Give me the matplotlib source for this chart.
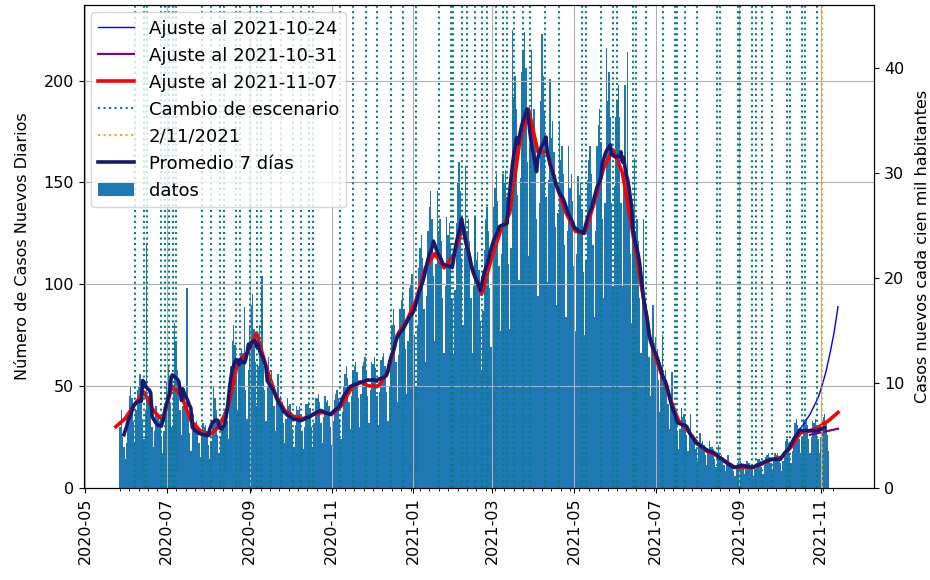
import numpy as np
import pandas as pd
import matplotlib
matplotlib.use('Agg')
from matplotlib import pyplot as plt
import matplotlib.dates as mdates

# datos diarios desde 2020-05-27 (una fila por semana, mie..mar)
inicio = '2020-05-27'
casos = [
    30, 38, 25, 20, 14, 22, 33,
    45, 50, 44, 33, 22, 38, 48,
    50, 56, 48, 34, 24, 38, 119,
    45, 44, 40, 30, 20, 28, 40,
    35, 36, 33, 25, 17, 28, 38,
    52, 60, 55, 42, 30, 48, 81,
    72, 58, 50, 38, 26, 40, 48,
    40, 98, 36, 27, 18, 28, 36,
    31, 33, 29, 22, 15, 25, 32,
    30, 31, 28, 21, 14, 23, 33,
    50, 44, 38, 26, 17, 25, 32,
    30, 36, 36, 33, 24, 45, 60,
    72, 80, 70, 55, 38, 60, 66,
    68, 66, 89, 48, 34, 58, 80,
    90, 95, 78, 62, 40, 60, 80,
    70, 104, 60, 48, 33, 50, 64,
    55, 58, 52, 40, 28, 42, 56,
    44, 45, 42, 32, 22, 34, 44,
    40, 41, 37, 29, 20, 31, 40,
    38, 40, 36, 28, 19, 30, 41,
    41, 42, 39, 30, 20, 32, 44,
    44, 46, 42, 32, 22, 35, 45,
    42, 43, 40, 30, 21, 33, 43,
    46, 48, 44, 34, 24, 37, 50,
    56, 60, 54, 42, 29, 45, 58,
    60, 62, 57, 44, 30, 46, 60,
    62, 64, 58, 45, 32, 48, 62,
    61, 64, 59, 45, 31, 47, 63,
    64, 66, 60, 47, 33, 50, 66,
    80, 88, 80, 62, 42, 65, 88,
    92, 96, 88, 68, 46, 72, 98,
    100, 105, 97, 75, 50, 80, 108,
    118, 124, 113, 88, 62, 94, 126,
    138, 146, 132, 104, 72, 110, 146,
    126, 132, 121, 93, 66, 99, 133,
    124, 130, 119, 92, 65, 97, 130,
    150, 160, 146, 113, 80, 118, 158,
    126, 132, 121, 93, 66, 99, 133,
    112, 116, 107, 82, 58, 87, 117,
    132, 138, 126, 98, 69, 104, 138,
    147, 154, 141, 109, 77, 115, 154,
    150, 156, 143, 110, 78, 118, 225,
    192, 202, 186, 144, 102, 152, 204,
    215, 224, 206, 160, 114, 168, 215,
    175, 186, 170, 132, 94, 140, 190,
    223, 202, 185, 143, 101, 151, 201,
    172, 180, 165, 128, 90, 135, 180,
    161, 168, 154, 119, 84, 126, 168,
    147, 154, 141, 109, 77, 115, 153,
    144, 150, 137, 106, 75, 112, 151,
    161, 168, 154, 119, 84, 126, 168,
    178, 186, 170, 132, 93, 140, 216,
    190, 204, 182, 140, 99, 148, 182,
    190, 198, 182, 140, 99, 148, 198,
    155, 214, 148, 115, 81, 121, 162,
    126, 132, 121, 93, 66, 99, 132,
    86, 90, 82, 64, 45, 68, 90,
    71, 74, 68, 53, 37, 56, 75,
    55, 58, 53, 41, 29, 43, 57,
    37, 38, 35, 27, 19, 29, 39,
    35, 36, 33, 26, 18, 27, 36,
    25, 26, 24, 19, 13, 20, 27,
    22, 23, 21, 16, 11, 17, 23,
    20, 20, 19, 14, 10, 15, 21,
    15, 16, 14, 11, 8, 12, 16,
    12, 12, 11, 8, 6, 9, 12,
    13, 13, 12, 9, 7, 10, 13,
    12, 12, 11, 8, 6, 9, 12,
    14, 14, 13, 10, 7, 11, 15,
    16, 17, 15, 12, 8, 13, 17,
    16, 17, 15, 12, 8, 13, 17,
    23, 24, 22, 17, 12, 18, 24,
    32, 34, 31, 24, 17, 25, 34,
    32, 34, 31, 24, 17, 25, 33,
    32, 34, 31, 24, 17, 25, 33,
    35, 36, 33, 26, 18,
]

# ajuste al 2021-11-07 (semanal desde 2020-05-24)
ajuste_1107_inicio = '2020-05-24'
ajuste_1107 = [30, 34, 41, 47, 38, 33, 50, 45, 33, 28, 26, 30, 40, 62, 66, 76, 60, 46, 38, 35,
               34, 36, 37, 36, 40, 48, 52, 50, 50, 57, 75, 82, 92, 108, 115, 108, 114, 128, 107, 95,
               112, 126, 135, 168, 186, 165, 165, 148, 135, 126, 125, 140, 157, 166, 155, 128, 100, 72, 58, 45,
               33, 28, 22, 18, 16, 13, 10, 10, 10, 12, 14, 15, 20, 27, 28, 30, 33, 37]

# ajuste al 2021-10-31 (semanal desde 2021-10-24)
ajuste_1031_inicio = '2021-10-24'
ajuste_1031 = [26, 27, 28, 29]

# ajuste al 2021-10-24 (cada 3 dias desde 2021-10-15)
ajuste_1024_inicio = '2021-10-15'
ajuste_1024 = [28, 30, 33, 36, 40, 44, 50, 57, 66, 76, 89]

cambios_escenario = [
    '2020-06-07', '2020-06-14', '2020-06-16', '2020-06-27', '2020-06-30', '2020-07-03',
    '2020-07-06', '2020-07-08', '2020-07-27', '2020-08-03', '2020-08-10', '2020-08-13',
    '2020-08-22', '2020-08-25', '2020-09-01', '2020-09-06', '2020-09-09', '2020-09-17',
    '2020-09-24', '2020-10-03', '2020-10-09', '2020-10-15', '2020-10-18', '2020-11-07',
    '2020-11-17', '2020-11-27', '2020-12-05', '2020-12-15', '2020-12-24', '2021-01-03',
    '2021-01-20', '2021-01-29', '2021-01-31', '2021-02-06', '2021-02-10', '2021-02-16',
    '2021-02-21', '2021-02-25', '2021-03-04', '2021-03-09', '2021-03-12', '2021-03-17',
    '2021-03-24', '2021-03-29', '2021-04-09', '2021-04-20', '2021-05-07', '2021-05-10',
    '2021-05-21', '2021-05-30', '2021-06-02', '2021-06-14', '2021-06-16', '2021-06-24',
    '2021-07-06', '2021-07-15', '2021-07-17', '2021-07-23', '2021-08-01', '2021-08-16',
    '2021-08-18', '2021-08-31', '2021-09-02', '2021-09-11', '2021-09-14', '2021-09-18',
    '2021-09-26', '2021-10-07', '2021-10-09', '2021-10-18', '2021-10-20', '2021-10-29',
]
fecha_marca = '2021-11-02'
poblacion = 515000

plt.rcParams['font.size'] = 11.5

fechas = pd.date_range(inicio, periods=len(casos), freq='D')
promedio = pd.Series(casos, index=fechas).rolling(7, center=True).mean()

fig = plt.figure(figsize=(9.3, 5.8), dpi=100)
ax = fig.add_subplot(1, 1, 1)
fig.subplots_adjust(left=0.09, right=0.94, top=0.991, bottom=0.159)

ax.plot(pd.date_range(ajuste_1024_inicio, periods=len(ajuste_1024), freq='3D'), ajuste_1024,
        color='blue', lw=1, label='Ajuste al 2021-10-24')
ax.plot(pd.date_range(ajuste_1031_inicio, periods=len(ajuste_1031), freq='7D'), ajuste_1031,
        color='purple', lw=1.6, label='Ajuste al 2021-10-31')
ax.plot(pd.date_range(ajuste_1107_inicio, periods=len(ajuste_1107), freq='7D'), ajuste_1107,
        color='red', lw=2.6, label='Ajuste al 2021-11-07')

for i, f in enumerate(cambios_escenario):
    ax.axvline(pd.Timestamp(f), color='teal', ls=':', lw=1.5,
               label='Cambio de escenario' if i == 0 else None)
ax.axvline(pd.Timestamp(fecha_marca), color='orange', ls=':', lw=1.5, label='2/11/2021')

ax.plot(promedio.index, promedio.values, color='midnightblue', lw=2.6, label='Promedio 7 días')
ax.bar(fechas, casos, width=1.0, color='tab:blue', label='datos')

ax.set_xlim(pd.Timestamp('2020-04-30'), pd.Timestamp('2021-12-11'))
ymax = 237
ax.set_ylim(0, ymax)
ax.xaxis.set_major_locator(mdates.MonthLocator(bymonth=[1, 3, 5, 7, 9, 11]))
ax.xaxis.set_major_formatter(mdates.DateFormatter('%Y-%m'))
ax.set_xticks(pd.date_range('2020-05-27', '2021-11-14', freq='7D'), minor=True)
plt.setp(ax.get_xticklabels(), rotation=90)
ax.grid(True)
ax.set_ylabel('Número de Casos Nuevos Diarios', labelpad=10)
ax.legend(loc='upper left', fontsize=13, borderaxespad=0.4)

ax2 = ax.twinx()
ax2.set_ylim(0, ymax / poblacion * 1e5)
ax2.set_ylabel('Casos nuevos cada cien mil habitantes', labelpad=8)

plt.savefig('out.png')
